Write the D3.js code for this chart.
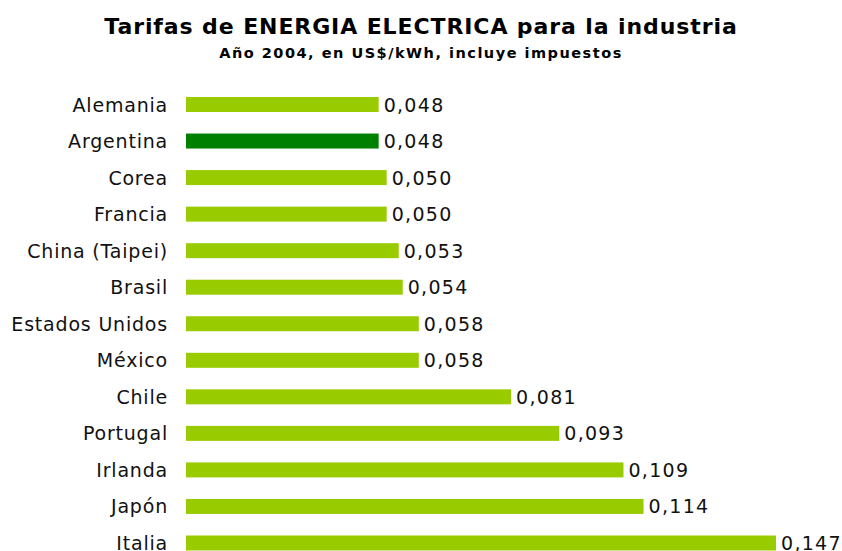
<!DOCTYPE html>
<html>
<head>
<meta charset="utf-8">
<script src="https://cdn.jsdelivr.net/npm/d3@7"></script>
<style>
    html, body { margin: 0; padding: 0; background: #fff; }
    svg { display: block; font-family: "DejaVu Sans", Verdana, sans-serif; }
    .title { font-size: 22px; font-weight: bold; letter-spacing: 0.9px; }
    .subtitle { font-size: 14.5px; font-weight: bold; letter-spacing: 1.5px; }
    .label, .value { font-size: 19px; letter-spacing: 0.8px; fill: #111; }
    .value { letter-spacing: 1.3px; }
</style>
</head>
<body>
<div id="chart"></div>
<script>
const WIDTH = 842,
    HEIGHT = 551;

const countries = ['Alemania', 'Argentina', 'Corea', 'Francia', 'China (Taipei)', 'Brasil',
    'Estados Unidos', 'México', 'Chile', 'Portugal', 'Irlanda', 'Japón', 'Italia'];
const tariffs = [0.048, 0.048, 0.050, 0.050, 0.053, 0.054, 0.058, 0.058, 0.081, 0.093, 0.109, 0.114, 0.147];
const highlight = 'Argentina';

const titleText = 'Tarifas de ENERGIA ELECTRICA para la industria';
const subtitleText = 'Año 2004, en US$/kWh, incluye impuestos';

const dataset = countries.map((c, i) => ({ country: c, value: tariffs[i] }));

const fmt = d3.formatLocale({ decimal: ',', thousands: '.', grouping: [3], currency: ['', ''] }).format('.3f');

const $svg = d3.select('#chart').append('svg')
    .attr('width', WIDTH)
    .attr('height', HEIGHT);

const xScale = d3.scaleLinear()
    .domain([0, 0.147])
    .range([186, 776]);

const yScale = d3.scalePoint()
    .domain(countries)
    .range([104.5, 543]);

const BAR_H = 15;

$svg.append('text')
    .attr('class', 'title')
    .attr('x', WIDTH / 2)
    .attr('y', 34)
    .attr('text-anchor', 'middle')
    .text(titleText);

$svg.append('text')
    .attr('class', 'subtitle')
    .attr('x', WIDTH / 2)
    .attr('y', 57.5)
    .attr('text-anchor', 'middle')
    .text(subtitleText);

const rows = $svg.selectAll('g.row')
    .data(dataset)
    .enter()
    .append('g')
    .attr('class', 'row')
    .attr('transform', d => `translate(0, ${yScale(d.country)})`);

rows.append('rect')
    .attr('x', xScale(0))
    .attr('y', -BAR_H / 2)
    .attr('width', d => xScale(d.value) - xScale(0))
    .attr('height', BAR_H)
    .attr('fill', d => d.country === highlight ? '#008000' : '#99cc00');

rows.append('text')
    .attr('class', 'label')
    .attr('x', 168)
    .attr('y', 7)
    .attr('text-anchor', 'end')
    .text(d => d.country);

rows.append('text')
    .attr('class', 'value')
    .attr('x', d => xScale(d.value) + 5)
    .attr('y', 7)
    .text(d => fmt(d.value));
</script>
</body>
</html>
